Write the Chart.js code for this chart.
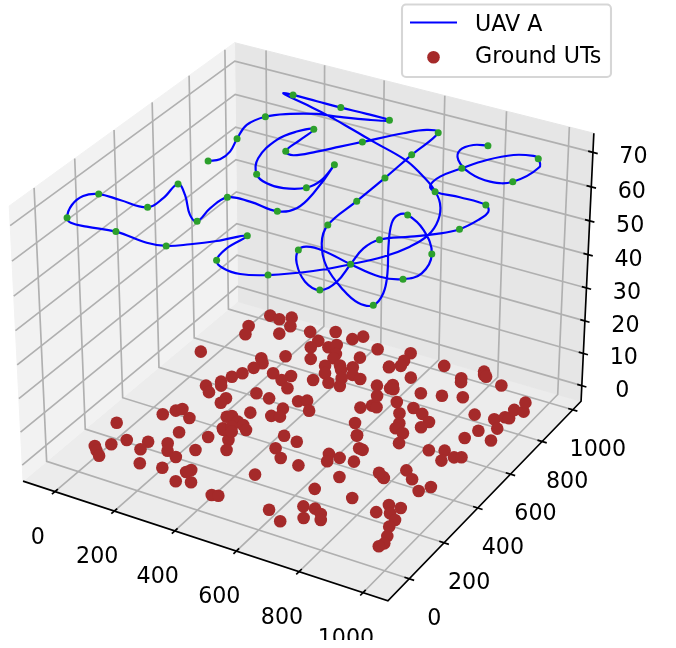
<!DOCTYPE html>
<html>
<head>
<meta charset="utf-8">
<title>UAV A and Ground UTs</title>
<script src="https://cdn.jsdelivr.net/npm/chart.js"></script>
<style>
	body { margin: 0; background: #fff; }
	canvas { display: block; }
</style>
</head>
<body>
<canvas id="myChart" width="676" height="648"></canvas>
<script>
// tick labels
const xTicks = [0, 200, 400, 600, 800, 1000]
const yTicks = [0, 200, 400, 600, 800, 1000]
const zTicks = [0, 10, 20, 30, 40, 50, 60, 70]

// ground users, all at z = 0
const utX = [0,116,143,143,155,156,204,204,259,282,329,352,91,113,125,169,0,184,270,76,50,14,32,53,
	134,137,187,208,246,275,175,243,320,313,313,353,438,456,71,106,134,157,46,63,150,226,293,358,
	379,453,274,273,319,334,358,364,307,431,234,177,195,186,364,402,417,385,440,533,461,492,442,421,
	459,374,252,306,293,332,173,267,314,396,417,450,378,369,393,307,270,301,324,345,288,300,314,456,
	504,571,599,637,595,611,553,582,594,550,554,560,532,672,749,759,790,799,809,871,618,592,605,686,
	746,803,648,706,744,782,776,685,711,715,746,762,878,939,961,974,966,994,976,970,928,912,984,854,
	894,911,934,952,849,885,930,950,807,813,469,508,571,489,637,676,689,616,653,631,698,702,788,672,
	786,615,671,689,723,750,765,719,879,892,928,915,943,945,963,973,967]
const utY = [664,506,479,547,528,587,475,446,389,330,284,236,308,344,361,329,203,249,269,139,98,67,49,30,
	162,117,183,149,133,192,54,66,97,81,26,43,16,22,951,946,973,926,865,818,872,927,965,953,
	982,939,893,850,876,900,853,828,791,870,767,721,698,662,778,801,781,741,811,865,773,764,741,699,
	700,690,664,677,644,612,619,543,537,565,581,536,508,457,466,442,400,382,374,355,323,350,327,383,
	373,625,544,487,651,650,756,705,762,968,920,889,868,953,916,896,983,966,960,938,845,782,762,782,
	801,824,705,700,684,655,618,654,606,577,564,512,756,762,787,788,836,841,888,721,684,630,655,521,
	542,491,524,535,397,365,321,356,335,331,313,276,268,166,489,432,429,363,360,327,363,273,348,186,
	198,32,-2,94,100,85,59,44,169,218,221,183,161,124,81,46,26]

// flight path of the UAV, at one altitude
const uavZ = 70
const pathX = [159,183,183,159,138,158,211,278,337,430,480,403,318,237,156,126,
	210,306,420,505,638,713,787,845,886,903,891,856,800,732,639,572,
	517,479,468,480,424,371,320,265,159,75,25,0,-29,-31,0,70,
	159,168,159,210,283,319,311,319,386,480,517,513,479,494,480,426,
	371,319,273,261,284,319,319,319,350,396,438,479,554,602,639,639,
	641,640,639,676,751,851,918,959,951,909,841,785,778,800,878,961,
	988,960,901,800,700,650,640,673,742,798,815,800,787,801,865,920,
	961,981,983,959,876,801,773,771,800,838,889,941,960,986,961,906,
	834,768,744,762,800]
const pathY = [470,495,549,627,715,786,837,875,889,918,944,947,945,946,947,942,
	915,884,839,804,751,701,641,573,487,399,317,233,154,73,-5,-37,
	-33,-5,65,152,86,35,-5,-16,-5,-21,-24,-5,62,121,152,152,
	154,220,311,266,175,154,234,312,322,311,353,451,627,530,469,435,
	437,469,554,677,750,787,710,629,619,671,730,787,892,944,945,787,
	628,470,312,215,111,25,-14,-6,62,160,288,407,457,470,417,311,
	205,153,134,154,182,179,152,87,13,-6,54,154,247,310,366,415,
	469,541,596,627,631,626,649,711,786,865,929,952,944,899,785,754,
	771,825,881,927,944]

// waypoints on the flight path
const wayX = [159,159,158,480,318,156,800,639,479,480,320,159,0,0,159,159,
	319,319,480,479,480,319,319,319,479,639,639,641,640,639,959,800,
	961,960,640,798,801,961,959,801,800,960,961,800]
const wayY = [470,627,786,944,945,947,154,-5,-5,152,-5,-5,-5,152,154,311,
	154,312,311,627,469,469,787,629,787,945,787,628,470,312,-6,470,
	311,153,152,-6,310,469,627,626,786,944,785,944]

// pane limits of the box
const xPane = [-109, 1077]
const yPane = [-119.5, 1055]
const zPane = [-4.88, 75.5]

// camera of the picture, elev 30 azim -60
const rad = Math.PI / 180
const elev = 30 * rad, azim = -60 * rad
const camN = [Math.cos(elev) * Math.cos(azim), Math.cos(elev) * Math.sin(azim), Math.sin(elev)]
const camU = [-Math.sin(azim), Math.cos(azim), 0]
const camV = [-Math.sin(elev) * Math.cos(azim), -Math.sin(elev) * Math.sin(azim), Math.cos(elev)]
const half = [0.62, 0.62, 0.465]
const dist = 10

function dot(a, b) {
	return a[0] * b[0] + a[1] * b[1] + a[2] * b[2]
}

function box(v, lim, h) {
	return -h + 2 * h * (v - lim[0]) / (lim[1] - lim[0])
}

function project(x, y, z) {
	const q = [box(x, xPane, half[0]), box(y, yPane, half[1]), box(z, zPane, half[2])]
	const w = dist - dot(q, camN)
	return { x: dot(q, camU) / w, y: dot(q, camV) / w }
}

const [x0, x1] = xPane
const [y0, y1] = yPane
const [z0, z1] = zPane
const tickLen = 15

function poly(points, color, width, order) {
	return {
		data: points.map(p => project(p[0], p[1], p[2])),
		showLine: true,
		borderColor: color,
		borderWidth: width,
		pointRadius: 0,
		tension: 0,
		fill: false,
		order: order
	}
}

function pane(points, color) {
	return {
		data: points.map(p => project(p[0], p[1], p[2])),
		showLine: true,
		borderColor: color,
		backgroundColor: color,
		borderWidth: 1,
		pointRadius: 0,
		tension: 0,
		fill: 'shape',
		order: 50
	}
}

const datasets = [
	pane([[x0, y0, z0], [x0, y1, z0], [x0, y1, z1], [x0, y0, z1], [x0, y0, z0]], '#F2F2F2'),
	pane([[x0, y1, z0], [x1, y1, z0], [x1, y1, z1], [x0, y1, z1], [x0, y1, z0]], '#E6E6E6'),
	pane([[x0, y0, z0], [x1, y0, z0], [x1, y1, z0], [x0, y1, z0], [x0, y0, z0]], '#ECECEC')
]

const gridColor = '#B0B0B0'
const gridWidth = 1.67
xTicks.forEach(t => datasets.push(poly([[t, y0, z0], [t, y1, z0], [t, y1, z1]], gridColor, gridWidth, 40)))
yTicks.forEach(t => datasets.push(poly([[x1, t, z0], [x0, t, z0], [x0, t, z1]], gridColor, gridWidth, 40)))
zTicks.forEach(t => datasets.push(poly([[x0, y0, t], [x0, y1, t], [x1, y1, t]], gridColor, gridWidth, 40)))

datasets.push(poly([[x0, y0, z0], [x1, y0, z0], [x1, y1, z0], [x1, y1, z1]], '#000', gridWidth, 30))
xTicks.forEach(t => datasets.push(poly([[t, y0 - tickLen, z0], [t, y0 + tickLen, z0]], '#000', gridWidth, 30)))
yTicks.forEach(t => datasets.push(poly([[x1 - tickLen, t, z0], [x1 + tickLen, t, z0]], '#000', gridWidth, 30)))
zTicks.forEach(t => datasets.push(poly([[x1 - tickLen, y1, t], [x1 + tickLen, y1, t]], '#000', gridWidth, 30)))

datasets.push({
	label: 'Ground UTs',
	data: utX.map((x, i) => project(x, utY[i], 0)),
	pointRadius: 6.3,
	pointBorderWidth: 0,
	pointBackgroundColor: '#A52A2A',
	order: 20
})
datasets.push({
	label: 'UAV A',
	data: pathX.map((x, i) => project(x, pathY[i], uavZ)),
	showLine: true,
	borderColor: '#0000FF',
	borderWidth: 2.2,
	pointRadius: 0,
	tension: 0.4,
	capBezierPoints: false,
	fill: false,
	order: 10
})
datasets.push({
	data: wayX.map((x, i) => project(x, wayY[i], uavZ)),
	pointRadius: 3.5,
	pointBorderWidth: 0,
	pointBackgroundColor: '#2CA02C',
	order: 5
})

// tick labels and the legend go on top of the datasets
const labelFont = '22.2px "DejaVu Sans"'
const axisText = {
	id: 'axisText',
	afterDraw(chart) {
		const ctx = chart.ctx
		const sx = chart.scales.x, sy = chart.scales.y
		function put(p, dx, dy, text) {
			ctx.fillText(text, sx.getPixelForValue(p.x) + dx, sy.getPixelForValue(p.y) + dy + 8)
		}
		ctx.save()
		ctx.beginPath()
		ctx.rect(0, 0, 676, 640)
		ctx.clip()
		ctx.font = labelFont
		ctx.fillStyle = '#000'
		ctx.textAlign = 'center'
		ctx.textBaseline = 'alphabetic'
		xTicks.forEach(t => put(project(t, y0, z0), -17, 44, String(t)))
		yTicks.forEach(t => put(project(x1, t, z0), 25, 38, String(t)))
		zTicks.forEach(t => put(project(x1, y1, t), 40.5, 3, String(t)))
		ctx.restore()

		ctx.save()
		ctx.beginPath()
		ctx.roundRect(402, 4.5, 209, 72.5, 4)
		ctx.fillStyle = 'rgba(255,255,255,0.8)'
		ctx.fill()
		ctx.strokeStyle = 'rgba(204,204,204,0.8)'
		ctx.lineWidth = 2.08
		ctx.stroke()
		ctx.beginPath()
		ctx.moveTo(410, 22.5)
		ctx.lineTo(457, 22.5)
		ctx.strokeStyle = '#0000FF'
		ctx.lineWidth = 2.08
		ctx.stroke()
		ctx.beginPath()
		ctx.arc(433.5, 57.3, 6.3, 0, 2 * Math.PI)
		ctx.fillStyle = '#A52A2A'
		ctx.fill()
		ctx.font = labelFont
		ctx.fillStyle = '#000'
		ctx.textAlign = 'left'
		ctx.textBaseline = 'alphabetic'
		ctx.fillText('UAV A', 475, 30.5)
		ctx.fillText('Ground UTs', 475, 63)
		ctx.restore()
	}
}

const pxPerUnit = 3370
const originX = 307.4
const originY = 307.8

const ctx = document.getElementById('myChart')
const chart = new Chart(ctx, {
	type: 'scatter',
	data: { datasets: datasets },
	options: {
		responsive: false,
		animation: false,
		events: [],
		clip: false,
		layout: { padding: 0, autoPadding: false },
		plugins: { legend: { display: false }, tooltip: { enabled: false } },
		scales: {
			x: { type: 'linear', display: false, min: -originX / pxPerUnit, max: (676 - originX) / pxPerUnit },
			y: { type: 'linear', display: false, min: (originY - 648) / pxPerUnit, max: originY / pxPerUnit }
		}
	},
	plugins: [axisText]
})
</script>
</body>
</html>
